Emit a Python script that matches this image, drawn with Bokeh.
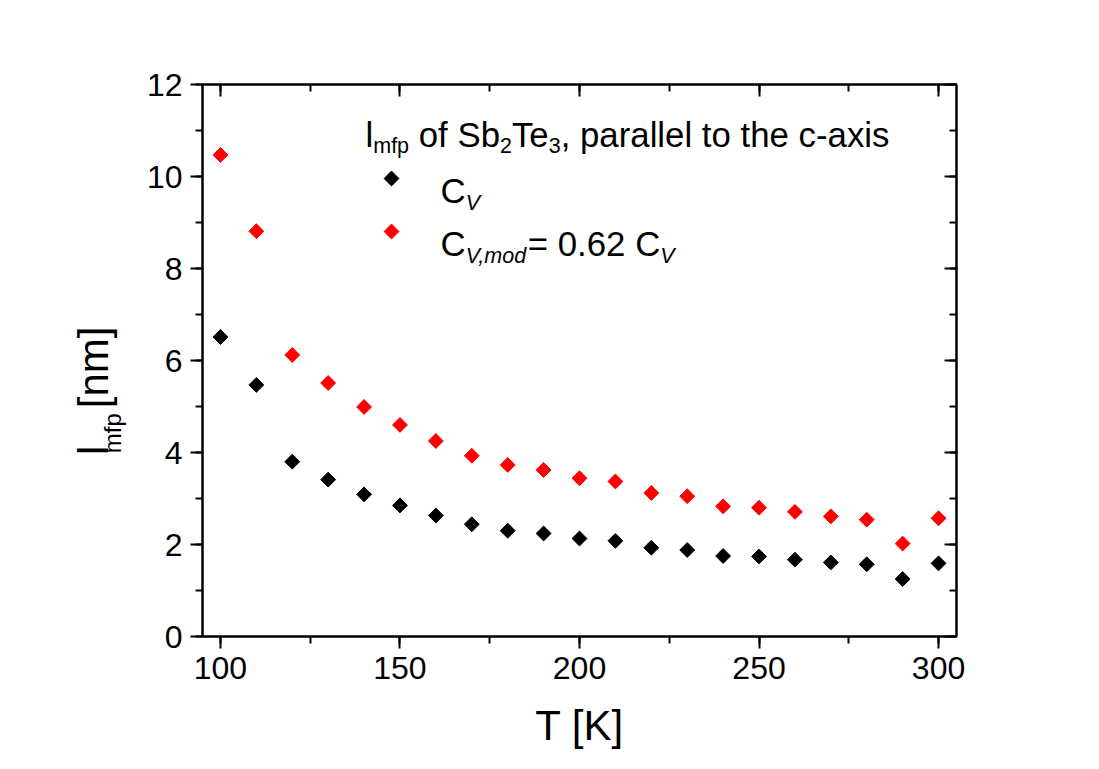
import math
from bokeh.plotting import figure
from bokeh.layouts import row
from bokeh.models import LinearAxis, SingleIntervalTicker, Label, Range1d
from bokeh.embed import file_html
from bokeh.resources import INLINE

# ---------------- data ----------------
temperature = [100, 110, 120, 130, 140, 150, 160, 170, 180, 190, 200,
               210, 220, 230, 240, 250, 260, 270, 280, 290, 300]
lmfp_cv = [6.51, 5.47, 3.80, 3.41, 3.09, 2.85, 2.63, 2.44, 2.30, 2.24, 2.13,
           2.08, 1.93, 1.88, 1.75, 1.74, 1.67, 1.61, 1.57, 1.25, 1.59]
lmfp_cv_mod = [10.47, 8.81, 6.12, 5.51, 4.99, 4.60, 4.25, 3.93, 3.73, 3.62, 3.44,
               3.37, 3.12, 3.05, 2.83, 2.80, 2.71, 2.61, 2.54, 2.02, 2.57]
x_ticks_interval = 50
y_ticks_interval = 2
x_title = "T [K]"

# ---------------- layout ----------------
W, H = 1099, 769
SIDE = 130                      # width of the strip that holds the y title
FL, FR, FT, FB = 202, 956, 84, 636
X0, X1 = 95, 305
Y0, Y1 = 0, 12
FONT = "Liberation Sans"
MAIN = 34.8
SUB = 21.5

def px2x(px):
    return X0 + (px - FL) / (FR - FL) * (X1 - X0)

def py2y(py):
    return Y0 + (FB - py) / (FB - FT) * (Y1 - Y0)

# Arial advance widths (per 1000 em)
AW = {' ': 278, 'l': 222, 'm': 833, 'f': 278, 'p': 556, 'o': 556, 'S': 667, 'b': 556,
      'T': 611, 'e': 556, ',': 278, 'a': 556, 'r': 333, 't': 278, 'h': 556, 'c': 500,
      '-': 333, 'x': 500, 'i': 222, 's': 500, 'C': 722, 'V': 667, '=': 584, '.': 278,
      'd': 556, 'n': 556, '[': 278, ']': 278, 'K': 667}
KERN = {"Te": -111}

def tw(s, size):
    w = sum(AW.get(ch, 556) for ch in s)
    for a, b in zip(s, s[1:]):
        w += KERN.get(a + b, 0)
    return w / 1000.0 * size

p = figure(width=W - SIDE, height=H, x_range=Range1d(X0, X1), y_range=Range1d(Y0, Y1),
           output_backend="svg", toolbar_location=None,
           min_border_left=FL - SIDE, min_border_right=W - FR,
           min_border_top=FT, min_border_bottom=H - FB)
p.background_fill_color = "white"
p.border_fill_color = "white"
p.xgrid.visible = False
p.ygrid.visible = False
p.outline_line_color = "black"
p.outline_line_width = 2

top_axis = LinearAxis()
right_axis = LinearAxis()
p.add_layout(top_axis, "above")
p.add_layout(right_axis, "right")

def style_axis(ax, inward, interval):
    ax.ticker = SingleIntervalTicker(interval=interval, num_minor_ticks=2)
    ax.axis_line_width = 2
    ax.axis_line_color = "black"
    ax.major_tick_line_width = 2
    ax.minor_tick_line_width = 2
    ax.major_tick_line_color = "black"
    ax.minor_tick_line_color = "black"
    ax.major_label_text_font = FONT
    if inward:
        ax.major_tick_in = 12
        ax.major_tick_out = 0
        ax.minor_tick_in = 7
        ax.minor_tick_out = 0
        ax.major_label_text_font_size = "12px"
        ax.major_label_text_color = None
        ax.major_label_standoff = 0
    else:
        ax.major_tick_in = 0
        ax.major_tick_out = 12
        ax.minor_tick_in = 0
        ax.minor_tick_out = 7
        ax.major_label_text_font_size = "32px"
        ax.major_label_text_color = "black"

xb = p.below[0]
yl = p.left[0]
style_axis(xb, False, x_ticks_interval)
style_axis(yl, False, y_ticks_interval)
style_axis(top_axis, True, x_ticks_interval)
style_axis(right_axis, True, y_ticks_interval)
xb.major_label_standoff = 8
yl.major_label_standoff = 8
xb.axis_label = x_title
xb.axis_label_text_font = FONT
xb.axis_label_text_font_size = "42px"
xb.axis_label_text_font_style = "normal"
xb.axis_label_text_color = "black"
xb.axis_label_standoff = 20

MSIZE = 10.5
p.scatter(temperature, lmfp_cv, marker="square", angle=math.pi / 4, size=MSIZE,
          fill_color="black", line_color="black")
p.scatter(temperature, lmfp_cv_mod, marker="square", angle=math.pi / 4, size=MSIZE,
          fill_color="#ff0000", line_color="#ff0000")

def add_text(x_px, y_px, text, size, italic=False):
    # leading blanks would be collapsed in SVG, so advance the position instead
    stripped = text.lstrip(" ")
    x_px += tw(text[:len(text) - len(stripped)], size)
    p.add_layout(Label(x=px2x(x_px), y=py2y(y_px), text=stripped, text_font=FONT,
                       text_font_size=f"{size}px", text_color="black",
                       text_font_style="italic" if italic else "normal",
                       text_baseline="alphabetic", text_align="left"))

# ---- legend title: l_mfp of Sb2Te3, parallel to the c-axis ----
bx, by = 365, 134
sub_dy = 11
pieces = [("l", MAIN, False), ("mfp", SUB, True), (" of Sb", MAIN, False), ("2", SUB, True),
          ("Te", MAIN, False), ("3", SUB, True), (", parallel to the c-axis", MAIN, False)]
x = bx
for txt, size, is_sub in pieces:
    add_text(x, by + (sub_dy if is_sub else 0), txt, size)
    x += tw(txt, size)

# ---- legend entries ----
leg_marker_x = 391
rows = [(190, "black", [("C", MAIN, False, False), ("V", SUB, True, True)]),
        (243, "#ff0000", [("C", MAIN, False, False), ("V,mod", SUB, True, True),
                          ("= 0.62 C", MAIN, False, False), ("V", SUB, True, True)])]
for base, color, parts in rows:
    p.scatter([px2x(leg_marker_x)], [py2y(base - 12)], marker="square", angle=math.pi / 4,
              size=MSIZE, fill_color=color, line_color=color)
    x = 440
    for txt, size, is_sub, ital in parts:
        add_text(x, base + (sub_dy + 1 if is_sub else 0), txt, size, italic=ital)
        x += tw(txt, size)

# ---- y title in its own strip: l_mfp [nm] ----
side = figure(width=SIDE, height=H, x_range=Range1d(0, SIDE), y_range=Range1d(0, H),
              output_backend="svg", toolbar_location=None,
              x_axis_type=None, y_axis_type=None,
              min_border_left=0, min_border_right=0, min_border_top=0, min_border_bottom=0)
side.outline_line_color = None
side.xgrid.visible = False
side.ygrid.visible = False
side.background_fill_color = "white"
side.border_fill_color = "white"

AX = 42
AXS = 24
yb_x = 111
ypos = 468
# (text, size, is_subscript, anchor correction x, anchor correction y, extra gap) in pixels
y_title = [("l", AX, False, -18, 48, 0), ("mfp", AXS, True, -10, 55, 0),
           (" [nm]", AX, False, -18, 48, 4)]
for txt, size, is_sub, cx, cy, gap in y_title:
    stripped = txt.lstrip(" ")
    lead = tw(txt[:len(txt) - len(stripped)], size) + gap
    side.add_layout(Label(x=yb_x + (11 if is_sub else 0) + cx, y=H - (ypos - lead + cy),
                          text=stripped, text_font=FONT, text_font_size=f"{size}px",
                          text_color="black", angle=math.pi / 2, text_align="left",
                          text_baseline="alphabetic"))
    ypos -= tw(txt, size) + gap

layout = row(side, p)
open("out.html", "w").write(file_html(layout, INLINE))
